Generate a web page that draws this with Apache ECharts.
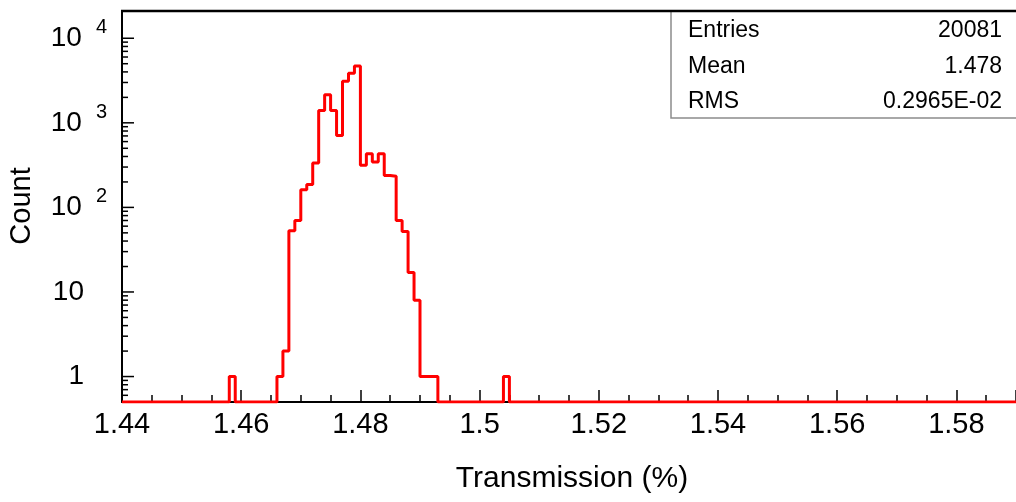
<!DOCTYPE html>
<html>
<head>
<meta charset="utf-8">
<script src="https://cdn.jsdelivr.net/npm/echarts@6/dist/echarts.min.js"></script>
<style>
html,body{margin:0;padding:0;background:#fff;}
#chart{width:1016px;height:502px;}
</style>
</head>
<body>
<div id="chart"></div>
<script>
// Histogram definition: 150 bins of width 0.001 starting at 1.44
const binStart = 1.44;
const binWidth = 0.001;
const counts = [
  0,0,0,0,0,0,0,0,0,0,      // 1.440 - 1.449
  0,0,0,0,0,0,0,0,1,0,      // 1.450 - 1.459
  0,0,0,0,0,0,1,2,53,70,    // 1.460 - 1.469
  162,187,334,1400,2150,1400,710,3100,3850,4700, // 1.470 - 1.479
  314,432,344,432,239,233,70,52,17,8, // 1.480 - 1.489
  1,1,1,0,0,0,0,0,0,0,      // 1.490 - 1.499
  0,0,0,0,1,0,0,0,0,0,      // 1.500 - 1.509
  0,0,0,0,0,0,0,0,0,0,      // 1.510 - 1.519
  0,0,0,0,0,0,0,0,0,0,      // 1.520 - 1.529
  0,0,0,0,0,0,0,0,0,0,      // 1.530 - 1.539
  0,0,0,0,0,0,0,0,0,0,      // 1.540 - 1.549
  0,0,0,0,0,0,0,0,0,0,      // 1.550 - 1.559
  0,0,0,0,0,0,0,0,0,0,      // 1.560 - 1.569
  0,0,0,0,0,0,0,0,0,0,      // 1.570 - 1.579
  0,0,0,0,0,0,0,0,0,0       // 1.580 - 1.589
];
const xMin = 1.44, xMax = 1.59, xStep = 0.02;
const yMin = 0.5, yMax = 21000;
const yMajorTicks = [1, 10, 100, 1000, 10000];
const yMinorTicks = [0.6,0.7,0.8,0.9, 2,3,4,5,6,7,8,9, 20,30,40,50,60,70,80,90,
  200,300,400,500,600,700,800,900, 2000,3000,4000,5000,6000,7000,8000,9000];
const statLabels = ['Entries', 'Mean', 'RMS'];
const statValues = ['20081', '1.478', '0.2965E-02'];
const xTitle = 'Transmission (%)';
const yTitle = 'Count';

// Build step-line points (bin edges); empty bins sit at the axis floor
const stepData = [];
for (let k = 0; k < counts.length; k++) {
  const edge = +(binStart + k * binWidth).toFixed(4);
  stepData.push([edge, counts[k] > 0 ? counts[k] : yMin]);
}
stepData.push([+(binStart + counts.length * binWidth).toFixed(4), counts[counts.length - 1] > 0 ? counts[counts.length - 1] : yMin]);

const tickData = yMajorTicks.map(v => [v, 1]).concat(yMinorTicks.map(v => [v, 0]));

const FONT = 'Liberation Sans, Arial, Helvetica, sans-serif';
const chart = echarts.init(document.getElementById('chart'), null, {renderer: 'canvas'});

const statGraphics = [];
statLabels.forEach((lab, i) => {
  statGraphics.push({type:'text', x: 688, y: 31 + i * 35.5, z: 20,
    style:{text: lab, fontSize: 23, fontFamily: FONT, fill:'#000', textAlign:'left', textVerticalAlign:'middle'}});
  statGraphics.push({type:'text', x: 1002, y: 31 + i * 35.5, z: 20,
    style:{text: statValues[i], fontSize: 23, fontFamily: FONT, fill:'#000', textAlign:'right', textVerticalAlign:'middle'}});
});

chart.setOption({
  animation: false,
  backgroundColor: '#fff',
  grid: {left: 122, right: -2, top: 11, bottom: 100, containLabel: false},
  xAxis: {
    type: 'value', min: xMin, max: xMax, interval: xStep,
    axisLine: {show: true, onZero: false, lineStyle: {color: '#000', width: 2}},
    axisTick: {show: true, inside: true, length: 12, lineStyle: {color: '#000', width: 1.5}},
    minorTick: {show: true, splitNumber: 4, length: 7, lineStyle: {color: '#000', width: 1.5}},
    splitLine: {show: false},
    axisLabel: {
      fontSize: 29, fontFamily: FONT, color: '#000', margin: 8,
      showMaxLabel: false,
      formatter: v => (Math.abs(v - xMax) < 1e-9 ? '' : String(+v.toFixed(3)))
    }
  },
  yAxis: {
    type: 'log', logBase: 10, min: yMin, max: yMax,
    axisLine: {show: true, lineStyle: {color: '#000', width: 2}},
    axisTick: {show: false},
    minorTick: {show: false},
    splitLine: {show: false},
    axisLabel: {
      margin: 15, color: '#000', fontFamily: FONT,
      formatter: function (v) {
        const e = Math.log10(v);
        const r = Math.round(e);
        if (Math.abs(e - r) > 1e-6) return '';
        if (r === 0) return '{b|1}{p| }';
        if (r === 1) return '{b|10}{p| }';
        return '{b|10}{s|' + r + '}';
      },
      rich: {
        b: {fontSize: 28, fontFamily: FONT, color: '#000', lineHeight: 41, verticalAlign: 'middle'},
        s: {fontSize: 20, fontFamily: FONT, color: '#000', lineHeight: 20, verticalAlign: 'top', padding: [0,0,0,14]},
        p: {width: 23, fontSize: 18, lineHeight: 18}
      }
    }
  },
  graphic: [
    {type:'rect', z: 15, shape:{x: 671, y: 11, width: 360, height: 107},
     style:{fill:'#fff', stroke:'#8c8c8c', lineWidth: 1.5}},
    {type:'line', z: 16, shape:{x1: 121, y1: 11, x2: 1020, y2: 11},
     style:{stroke:'#000', lineWidth: 2.5}},
    {type:'text', x: 572, y: 479, z: 20,
     style:{text: xTitle, fontSize: 30, fontFamily: FONT, fill:'#000', textAlign:'center', textVerticalAlign:'middle'}},
    {type:'text', x: 22, y: 206, rotation: Math.PI / 2, z: 20,
     style:{text: yTitle, fontSize: 29, fontFamily: FONT, fill:'#000', textAlign:'center', textVerticalAlign:'middle'}}
  ].concat(statGraphics),
  series: [
    {
      type: 'line', step: 'end', data: stepData, showSymbol: false, symbol: 'none',
      lineStyle: {color: '#ff0000', width: 3}, z: 3, clip: true
    },
    {
      type: 'custom', data: tickData, clip: false, z: 4, silent: true,
      renderItem: function (params, api) {
        const p = api.coord([xMin, api.value(0)]);
        const len = api.value(1) ? 12 : 6;
        return {type: 'line', shape: {x1: p[0], y1: p[1], x2: p[0] + len, y2: p[1]},
                style: {stroke: '#000', lineWidth: 1.5}};
      }
    }
  ]
});
</script>
</body>
</html>
